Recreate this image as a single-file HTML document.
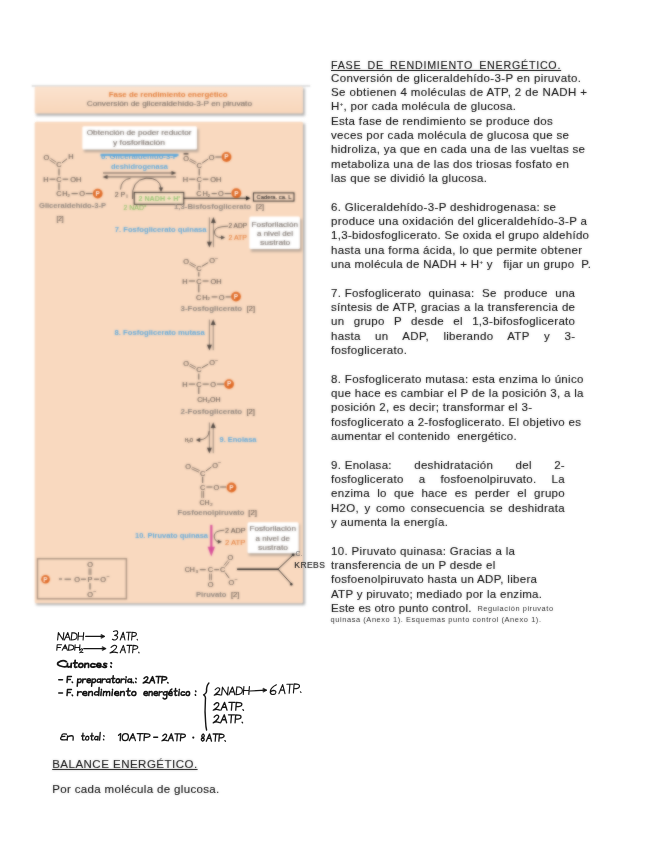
<!DOCTYPE html>
<html>
<head>
<meta charset="utf-8">
<style>
html,body{margin:0;padding:0;background:#fff;}
body{width:658px;height:848px;position:relative;overflow:hidden;font-family:"Liberation Sans",sans-serif;color:#111;}
.l{position:absolute;left:331px;white-space:nowrap;font-size:11.5px;line-height:14px;height:14px;color:#111;-webkit-text-stroke:0.12px #050505;}
.j{letter-spacing:0.3px;width:246px;text-align:justify;text-align-last:justify;white-space:normal;}
.u{text-decoration:underline;}
.s{font-size:7.4px;-webkit-text-stroke:0;color:#2a2a2a;}
sup{font-size:6px;line-height:0;vertical-align:4px;}
#txt{position:absolute;left:0;top:0;width:658px;height:848px;filter:url(#soft2);}
#dia{position:absolute;left:0;top:0;width:658px;height:848px;filter:url(#soft);}
.d{position:absolute;white-space:nowrap;font-size:6.5px;line-height:8px;color:#6b625b;text-align:center;}
</style>
</head>
<body>
<svg width="0" height="0" style="position:absolute"><defs><filter id="soft" x="0" y="0" width="100%" height="100%" color-interpolation-filters="sRGB"><feGaussianBlur stdDeviation="1.0" result="b"/><feComposite in="b" in2="SourceGraphic" operator="arithmetic" k1="0" k2="0.72" k3="0.28" k4="0"/></filter><filter id="soft2" x="0" y="0" width="100%" height="100%" color-interpolation-filters="sRGB"><feGaussianBlur stdDeviation="0.8" result="b"/><feComposite in="b" in2="SourceGraphic" operator="arithmetic" k1="0" k2="0.3" k3="0.7" k4="0"/></filter></defs></svg>
<div id="dia">
<!--DIAGRAM-->
<svg width="658" height="848" viewBox="0 0 658 848" font-family="Liberation Sans, sans-serif" style="position:absolute;left:0;top:0">
<defs><filter id="sh" x="-10%" y="-10%" width="120%" height="130%"><feGaussianBlur stdDeviation="0.8"/></filter><linearGradient id="tg" x1="0" y1="0" x2="0" y2="1"><stop offset="0" stop-color="#fbe3cf"/><stop offset="1" stop-color="#f8d6ba"/></linearGradient></defs>
<rect x="31.7" y="85.3" width="278.5" height="1.3" fill="#d0d0d0"/>
<rect x="36.2" y="88.2" width="268.6" height="27.6" fill="#8f8f8f" opacity="0.7" filter="url(#sh)"/>
<rect x="34.7" y="86.5" width="268.3" height="27" rx="1.5" fill="url(#tg)"/>
<rect x="36.2" y="123.5" width="268.8" height="481.6" fill="#8f8f8f" opacity="0.7" filter="url(#sh)"/>
<rect x="34.7" y="121.8" width="268.3" height="481.5" rx="1.5" fill="#f9d9bf"/>
<text x="108.7" y="96.7" font-size="7.2" fill="#e27a35" stroke="#e27a35" stroke-width="0.0" font-weight="bold" textLength="119.0" lengthAdjust="spacingAndGlyphs">Fase de rendimiento energético</text>
<text x="86.7" y="106.4" font-size="7.2" fill="#746a63" stroke="#746a63" stroke-width="0.12" textLength="165.3" lengthAdjust="spacingAndGlyphs">Conversión de gliceraldehído-3-P en piruvato</text>
<rect x="84" y="129" width="114.5" height="23" fill="#8c847e" opacity="0.6" filter="url(#sh)"/>
<rect x="82.3" y="126.3" width="114.7" height="23.3" rx="1.5" fill="#fff"/>
<text x="86.7" y="134.9" font-size="7.2" fill="#746a63" stroke="#746a63" stroke-width="0.12" textLength="104.9" lengthAdjust="spacingAndGlyphs">Obtención de poder reductor</text>
<text x="113.0" y="145.2" font-size="7.2" fill="#746a63" stroke="#746a63" stroke-width="0.12" textLength="52.0" lengthAdjust="spacingAndGlyphs">y fosforilación</text>
<text x="46.4" y="159.9" font-size="7.4" fill="#5c524b" stroke="#5c524b" stroke-width="0.12" text-anchor="middle">O</text>
<text x="59.0" y="167.3" font-size="7.4" fill="#5c524b" stroke="#5c524b" stroke-width="0.12" text-anchor="middle">C</text>
<line x1="49.5" y1="160.0" x2="55.3" y2="163.8" stroke="#5c524b" stroke-width="0.7"/>
<line x1="50.5" y1="158.4" x2="56.3" y2="162.2" stroke="#5c524b" stroke-width="0.7"/>
<line x1="62.0" y1="162.8" x2="67.0" y2="158.8" stroke="#5c524b" stroke-width="1.0"/>
<text x="71.0" y="159.3" font-size="7.4" fill="#5c524b" stroke="#5c524b" stroke-width="0.12" text-anchor="middle">H</text>
<line x1="59.0" y1="168.6" x2="59.0" y2="175.4" stroke="#5c524b" stroke-width="1.0"/>
<text x="46.0" y="181.9" font-size="7.4" fill="#5c524b" stroke="#5c524b" stroke-width="0.12" text-anchor="middle">H</text>
<line x1="49.6" y1="179.2" x2="55.4" y2="179.2" stroke="#5c524b" stroke-width="1.0"/>
<text x="59.0" y="181.9" font-size="7.4" fill="#5c524b" stroke="#5c524b" stroke-width="0.12" text-anchor="middle">C</text>
<line x1="62.6" y1="179.2" x2="68.2" y2="179.2" stroke="#5c524b" stroke-width="1.0"/>
<text x="75.8" y="181.9" font-size="7.4" fill="#5c524b" stroke="#5c524b" stroke-width="0.12" text-anchor="middle">OH</text>
<line x1="59.0" y1="183.2" x2="59.0" y2="189.8" stroke="#5c524b" stroke-width="1.0"/>
<text x="58.8" y="196.3" font-size="7.4" fill="#5c524b" stroke="#5c524b" stroke-width="0.12" text-anchor="middle">C</text>
<text x="65.0" y="196.3" font-size="7.4" fill="#5c524b" stroke="#5c524b" stroke-width="0.12" text-anchor="middle">H</text>
<text x="68.6" y="197.1" font-size="4.2" fill="#5c524b" stroke="#5c524b" stroke-width="0.12" text-anchor="middle">2</text>
<line x1="71.5" y1="193.6" x2="77.8" y2="193.6" stroke="#5c524b" stroke-width="1.0"/>
<text x="82.0" y="196.3" font-size="7.4" fill="#5c524b" stroke="#5c524b" stroke-width="0.12" text-anchor="middle">O</text>
<line x1="85.8" y1="193.6" x2="92.6" y2="193.6" stroke="#5c524b" stroke-width="1.0"/>
<circle cx="97.7" cy="193.6" r="4.9" fill="#e06a25"/>
<text x="97.7" y="195.9" font-size="6.5" fill="#fff" stroke="#fff" stroke-width="0.0" text-anchor="middle" font-weight="bold">P</text>
<text x="39.0" y="207.6" font-size="6.6" fill="#8a8079" stroke="#8a8079" stroke-width="0.0" font-weight="bold" textLength="67.0" lengthAdjust="spacingAndGlyphs">Gliceraldehído-3-P</text>
<text x="60.0" y="220.9" font-size="6.5" fill="#5c524b" stroke="#5c524b" stroke-width="0.12" text-anchor="middle">[2]</text>
<text x="101.0" y="158.6" font-size="6.8" fill="#5aa7dc" stroke="#5aa7dc" stroke-width="0.0" font-weight="bold" textLength="77.0" lengthAdjust="spacingAndGlyphs">6. Gliceraldehído-3-P</text>
<rect x="100.5" y="153.8" width="78" height="2.2" fill="#5aa7dc"/>
<text x="111.0" y="168.7" font-size="6.8" fill="#5aa7dc" stroke="#5aa7dc" stroke-width="0.0" font-weight="bold" textLength="57.0" lengthAdjust="spacingAndGlyphs">deshidrogenasa</text>
<line x1="103.0" y1="173.0" x2="174.0" y2="173.0" stroke="#4a423d" stroke-width="0.9"/>
<path d="M176.5,173 L171.5,171 L171.5,175 Z" stroke="#4a423d" stroke-width="0" fill="#4a423d"/>
<line x1="105.0" y1="176.9" x2="176.0" y2="176.9" stroke="#4a423d" stroke-width="0.9"/>
<path d="M102.5,176.9 L107.5,174.9 L107.5,178.9 Z" stroke="#4a423d" stroke-width="0" fill="#4a423d"/>
<path d="M120.5,189.5 Q121,179.5 130.5,178.3" stroke="#4a423d" stroke-width="0.8" fill="none"/>
<text x="120.0" y="197.0" font-size="7" fill="#5c524b" stroke="#5c524b" stroke-width="0.12" text-anchor="middle">2 P</text>
<text x="127.0" y="198.1" font-size="4.5" fill="#5c524b" stroke="#5c524b" stroke-width="0.12" text-anchor="middle">i</text>
<path d="M132.6,199 Q131,180 146,178.2 Q160,177.5 161,188.5" stroke="#4a423d" stroke-width="0.9" fill="none"/>
<path d="M161,192 L158.8,187.6 L163.2,187.6 Z" stroke="#4a423d" stroke-width="0" fill="#4a423d"/>
<rect x="134.2" y="192.4" width="49.6" height="11.9" fill="#f7dec2" stroke="#2a2623" stroke-width="1"/>
<text x="138.5" y="200.9" font-size="6.8" fill="#93c572" stroke="#93c572" stroke-width="0.0" font-weight="bold" textLength="42.0" lengthAdjust="spacingAndGlyphs">2 NADH + H⁺</text>
<text x="123.5" y="209.6" font-size="6.8" fill="#86bf62" stroke="#86bf62" stroke-width="0.12" textLength="22.5" lengthAdjust="spacingAndGlyphs">2 NAD⁺</text>
<line x1="183.7" y1="198.2" x2="248.0" y2="198.2" stroke="#111" stroke-width="1.1"/>
<path d="M250.5,198.2 L246,196 L246,200.4 Z" stroke="#111" stroke-width="0" fill="#111"/>
<rect x="253.4" y="192.9" width="40.6" height="8.2" fill="none" stroke="#111" stroke-width="0.9"/>
<text x="256.5" y="199.2" font-size="5.4" fill="#222" stroke="#222" stroke-width="0.12" textLength="35.0" lengthAdjust="spacingAndGlyphs">Cadera. ca. L</text>
<text x="186.0" y="160.5" font-size="7.4" fill="#5c524b" stroke="#5c524b" stroke-width="0.12" text-anchor="middle">O</text>
<rect x="183.6" y="153.2" width="4.8" height="1.3" fill="#3a3430"/>
<text x="199.2" y="167.5" font-size="7.4" fill="#5c524b" stroke="#5c524b" stroke-width="0.12" text-anchor="middle">C</text>
<line x1="189.2" y1="160.6" x2="195.6" y2="164.0" stroke="#5c524b" stroke-width="0.7"/>
<line x1="190.0" y1="159.0" x2="196.4" y2="162.4" stroke="#5c524b" stroke-width="0.7"/>
<line x1="202.2" y1="163.0" x2="208.2" y2="159.0" stroke="#5c524b" stroke-width="1.0"/>
<text x="211.7" y="159.7" font-size="7.4" fill="#5c524b" stroke="#5c524b" stroke-width="0.12" text-anchor="middle">O</text>
<line x1="215.4" y1="157.0" x2="221.6" y2="157.0" stroke="#5c524b" stroke-width="1.0"/>
<circle cx="226.5" cy="157.0" r="4.9" fill="#e06a25"/>
<text x="226.5" y="159.3" font-size="6.5" fill="#fff" stroke="#fff" stroke-width="0.0" text-anchor="middle" font-weight="bold">P</text>
<line x1="199.2" y1="168.8" x2="199.2" y2="175.4" stroke="#5c524b" stroke-width="1.0"/>
<text x="185.5" y="181.9" font-size="7.4" fill="#5c524b" stroke="#5c524b" stroke-width="0.12" text-anchor="middle">H</text>
<line x1="189.2" y1="179.2" x2="195.4" y2="179.2" stroke="#5c524b" stroke-width="1.0"/>
<text x="199.2" y="181.9" font-size="7.4" fill="#5c524b" stroke="#5c524b" stroke-width="0.12" text-anchor="middle">C</text>
<line x1="202.8" y1="179.2" x2="208.4" y2="179.2" stroke="#5c524b" stroke-width="1.0"/>
<text x="215.8" y="181.9" font-size="7.4" fill="#5c524b" stroke="#5c524b" stroke-width="0.12" text-anchor="middle">OH</text>
<line x1="199.2" y1="183.2" x2="199.2" y2="189.8" stroke="#5c524b" stroke-width="1.0"/>
<text x="199.0" y="196.3" font-size="7.4" fill="#5c524b" stroke="#5c524b" stroke-width="0.12" text-anchor="middle">C</text>
<text x="205.2" y="196.3" font-size="7.4" fill="#5c524b" stroke="#5c524b" stroke-width="0.12" text-anchor="middle">H</text>
<text x="208.8" y="197.1" font-size="4.2" fill="#5c524b" stroke="#5c524b" stroke-width="0.12" text-anchor="middle">2</text>
<line x1="211.6" y1="193.6" x2="216.8" y2="193.6" stroke="#5c524b" stroke-width="1.0"/>
<text x="220.8" y="196.3" font-size="7.4" fill="#5c524b" stroke="#5c524b" stroke-width="0.12" text-anchor="middle">O</text>
<line x1="224.6" y1="193.6" x2="231.0" y2="193.6" stroke="#5c524b" stroke-width="1.0"/>
<circle cx="236.3" cy="193.2" r="4.9" fill="#e06a25"/>
<text x="236.3" y="195.5" font-size="6.5" fill="#fff" stroke="#fff" stroke-width="0.0" text-anchor="middle" font-weight="bold">P</text>
<text x="174.0" y="208.6" font-size="6.6" fill="#8a8079" stroke="#8a8079" stroke-width="0.0" font-weight="bold" textLength="77.0" lengthAdjust="spacingAndGlyphs">1,3-Bisfosfoglicerato</text>
<text x="256.0" y="208.5" font-size="6.5" fill="#5c524b" stroke="#5c524b" stroke-width="0.12" textLength="8.0" lengthAdjust="spacingAndGlyphs">[2]</text>
<text x="114.8" y="232.4" font-size="6.8" fill="#5aa7dc" stroke="#5aa7dc" stroke-width="0.0" font-weight="bold" textLength="91.8" lengthAdjust="spacingAndGlyphs">7. Fosfoglicerato quinasa</text>
<line x1="209.4" y1="217.4" x2="209.4" y2="245.2" stroke="#85766b" stroke-width="0.9"/>
<path d="M209.4,247.5 L206.9,241.7 L211.9,241.7 Z" stroke="#4a423d" stroke-width="0" fill="#4a423d"/>
<line x1="213.4" y1="219.4" x2="213.4" y2="247.2" stroke="#85766b" stroke-width="0.9"/>
<path d="M213.4,217.1 L210.9,222.9 L215.9,222.9 Z" stroke="#4a423d" stroke-width="0" fill="#4a423d"/>
<path d="M228,226.2 Q214.2,226.5 214.4,232 Q214.8,237.6 221.5,237.6" stroke="#4a423d" stroke-width="0.8" fill="none"/>
<path d="M225.2,237.6 L221,235.6 L221,239.6 Z" stroke="#4a423d" stroke-width="0" fill="#4a423d"/>
<text x="228.5" y="228.4" font-size="6.8" fill="#5c524b" stroke="#5c524b" stroke-width="0.12" textLength="18.5" lengthAdjust="spacingAndGlyphs">2 ADP</text>
<text x="228.5" y="240.4" font-size="6.8" fill="#e27a35" stroke="#e27a35" stroke-width="0.12" textLength="18.5" lengthAdjust="spacingAndGlyphs">2 ATP</text>
<rect x="251" y="219" width="50.7" height="32.6" fill="#8c847e" opacity="0.6" filter="url(#sh)"/>
<rect x="249.3" y="216.4" width="50.7" height="32.6" rx="1.5" fill="#fff"/>
<text x="251.6" y="226.9" font-size="7.3" fill="#746a63" stroke="#746a63" stroke-width="0.12" textLength="46.4" lengthAdjust="spacingAndGlyphs">Fosforilación</text>
<text x="257.0" y="236.1" font-size="7.3" fill="#746a63" stroke="#746a63" stroke-width="0.12" textLength="36.0" lengthAdjust="spacingAndGlyphs">a nivel del</text>
<text x="260.0" y="245.2" font-size="7.3" fill="#746a63" stroke="#746a63" stroke-width="0.12" textLength="30.3" lengthAdjust="spacingAndGlyphs">sustrato</text>
<text x="186.0" y="264.0" font-size="7.4" fill="#5c524b" stroke="#5c524b" stroke-width="0.12" text-anchor="middle">O</text>
<text x="198.8" y="270.9" font-size="7.4" fill="#5c524b" stroke="#5c524b" stroke-width="0.12" text-anchor="middle">C</text>
<line x1="189.2" y1="264.1" x2="195.2" y2="267.4" stroke="#5c524b" stroke-width="0.7"/>
<line x1="190.0" y1="262.5" x2="196.0" y2="265.8" stroke="#5c524b" stroke-width="0.7"/>
<line x1="201.8" y1="266.4" x2="208.2" y2="262.6" stroke="#5c524b" stroke-width="1.0"/>
<text x="212.0" y="263.4" font-size="7.4" fill="#5c524b" stroke="#5c524b" stroke-width="0.12" text-anchor="middle">O</text>
<text x="216.6" y="259.8" font-size="4.5" fill="#5c524b" stroke="#5c524b" stroke-width="0.12" text-anchor="middle">–</text>
<line x1="198.8" y1="272.2" x2="198.8" y2="276.6" stroke="#5c524b" stroke-width="1.0"/>
<text x="185.0" y="283.7" font-size="7.4" fill="#5c524b" stroke="#5c524b" stroke-width="0.12" text-anchor="middle">H</text>
<line x1="188.8" y1="281.0" x2="195.0" y2="281.0" stroke="#5c524b" stroke-width="1.0"/>
<text x="198.8" y="283.7" font-size="7.4" fill="#5c524b" stroke="#5c524b" stroke-width="0.12" text-anchor="middle">C</text>
<line x1="202.6" y1="281.0" x2="208.6" y2="281.0" stroke="#5c524b" stroke-width="1.0"/>
<text x="216.0" y="283.7" font-size="7.4" fill="#5c524b" stroke="#5c524b" stroke-width="0.12" text-anchor="middle">OH</text>
<line x1="198.8" y1="284.4" x2="198.8" y2="292.4" stroke="#5c524b" stroke-width="1.0"/>
<text x="198.6" y="299.6" font-size="7.4" fill="#5c524b" stroke="#5c524b" stroke-width="0.12" text-anchor="middle">C</text>
<text x="204.8" y="299.6" font-size="7.4" fill="#5c524b" stroke="#5c524b" stroke-width="0.12" text-anchor="middle">H</text>
<text x="208.6" y="300.4" font-size="4.2" fill="#5c524b" stroke="#5c524b" stroke-width="0.12" text-anchor="middle">2</text>
<line x1="211.6" y1="296.9" x2="217.4" y2="296.9" stroke="#5c524b" stroke-width="1.0"/>
<text x="221.6" y="299.6" font-size="7.4" fill="#5c524b" stroke="#5c524b" stroke-width="0.12" text-anchor="middle">O</text>
<line x1="225.6" y1="296.9" x2="230.8" y2="296.9" stroke="#5c524b" stroke-width="1.0"/>
<circle cx="236.0" cy="296.6" r="4.9" fill="#e06a25"/>
<text x="236.0" y="298.9" font-size="6.5" fill="#fff" stroke="#fff" stroke-width="0.0" text-anchor="middle" font-weight="bold">P</text>
<text x="180.5" y="310.8" font-size="6.6" fill="#8a8079" stroke="#8a8079" stroke-width="0.0" font-weight="bold" textLength="61.7" lengthAdjust="spacingAndGlyphs">3-Fosfoglicerato</text>
<text x="246.8" y="310.7" font-size="6.5" fill="#5c524b" stroke="#5c524b" stroke-width="0.12" textLength="8.2" lengthAdjust="spacingAndGlyphs">[2]</text>
<text x="114.6" y="335.1" font-size="6.8" fill="#5aa7dc" stroke="#5aa7dc" stroke-width="0.0" font-weight="bold" textLength="90.3" lengthAdjust="spacingAndGlyphs">8. Fosfoglicerato mutasa</text>
<line x1="209.4" y1="319.6" x2="209.4" y2="348.2" stroke="#85766b" stroke-width="0.9"/>
<path d="M209.4,350.5 L206.9,344.7 L211.9,344.7 Z" stroke="#4a423d" stroke-width="0" fill="#4a423d"/>
<line x1="213.2" y1="321.6" x2="213.2" y2="350.2" stroke="#85766b" stroke-width="0.9"/>
<path d="M213.2,319.3 L210.7,325.1 L215.7,325.1 Z" stroke="#4a423d" stroke-width="0" fill="#4a423d"/>
<text x="186.0" y="365.7" font-size="7.4" fill="#5c524b" stroke="#5c524b" stroke-width="0.12" text-anchor="middle">O</text>
<text x="198.8" y="372.3" font-size="7.4" fill="#5c524b" stroke="#5c524b" stroke-width="0.12" text-anchor="middle">C</text>
<line x1="189.2" y1="365.8" x2="195.2" y2="369.0" stroke="#5c524b" stroke-width="0.7"/>
<line x1="190.0" y1="364.2" x2="196.0" y2="367.4" stroke="#5c524b" stroke-width="0.7"/>
<line x1="201.8" y1="367.8" x2="208.2" y2="364.2" stroke="#5c524b" stroke-width="1.0"/>
<text x="212.0" y="365.2" font-size="7.4" fill="#5c524b" stroke="#5c524b" stroke-width="0.12" text-anchor="middle">O</text>
<text x="216.6" y="361.6" font-size="4.5" fill="#5c524b" stroke="#5c524b" stroke-width="0.12" text-anchor="middle">–</text>
<line x1="198.8" y1="373.6" x2="198.8" y2="379.6" stroke="#5c524b" stroke-width="1.0"/>
<text x="185.0" y="386.8" font-size="7.4" fill="#5c524b" stroke="#5c524b" stroke-width="0.12" text-anchor="middle">H</text>
<line x1="188.8" y1="384.1" x2="195.0" y2="384.1" stroke="#5c524b" stroke-width="1.0"/>
<text x="198.8" y="386.8" font-size="7.4" fill="#5c524b" stroke="#5c524b" stroke-width="0.12" text-anchor="middle">C</text>
<line x1="202.6" y1="384.1" x2="208.8" y2="384.1" stroke="#5c524b" stroke-width="1.0"/>
<text x="213.0" y="386.8" font-size="7.4" fill="#5c524b" stroke="#5c524b" stroke-width="0.12" text-anchor="middle">O</text>
<line x1="217.0" y1="384.1" x2="224.0" y2="384.1" stroke="#5c524b" stroke-width="1.0"/>
<circle cx="229.1" cy="384.1" r="4.9" fill="#e06a25"/>
<text x="229.1" y="386.4" font-size="6.5" fill="#fff" stroke="#fff" stroke-width="0.0" text-anchor="middle" font-weight="bold">P</text>
<line x1="198.8" y1="387.4" x2="198.8" y2="394.0" stroke="#5c524b" stroke-width="1.0"/>
<text x="197.2" y="401.5" font-size="7.4" fill="#5c524b" stroke="#5c524b" stroke-width="0.12" textLength="23.4" lengthAdjust="spacingAndGlyphs">CH₂OH</text>
<text x="180.5" y="413.7" font-size="6.6" fill="#8a8079" stroke="#8a8079" stroke-width="0.0" font-weight="bold" textLength="61.7" lengthAdjust="spacingAndGlyphs">2-Fosfoglicerato</text>
<text x="246.5" y="413.6" font-size="6.5" fill="#5c524b" stroke="#5c524b" stroke-width="0.12" textLength="8.5" lengthAdjust="spacingAndGlyphs">[2]</text>
<line x1="209.4" y1="422.5" x2="209.4" y2="451.2" stroke="#85766b" stroke-width="0.9"/>
<path d="M209.4,453.5 L206.9,447.7 L211.9,447.7 Z" stroke="#4a423d" stroke-width="0" fill="#4a423d"/>
<line x1="213.2" y1="424.5" x2="213.2" y2="453.2" stroke="#85766b" stroke-width="0.9"/>
<path d="M213.2,422.2 L210.7,428.0 L215.7,428.0 Z" stroke="#4a423d" stroke-width="0" fill="#4a423d"/>
<path d="M209.2,431 Q208.5,439.5 199,440" stroke="#4a423d" stroke-width="0.8" fill="none"/>
<path d="M195.8,440 L200.2,437.8 L200.2,442.2 Z" stroke="#4a423d" stroke-width="0" fill="#4a423d"/>
<text x="185.0" y="441.9" font-size="4.6" fill="#4a423d" stroke="#4a423d" stroke-width="0.12" textLength="8.0" lengthAdjust="spacingAndGlyphs">H₂O</text>
<text x="219.5" y="442.4" font-size="6.8" fill="#5aa7dc" stroke="#5aa7dc" stroke-width="0.0" font-weight="bold" textLength="37.0" lengthAdjust="spacingAndGlyphs">9. Enolasa</text>
<text x="188.1" y="468.7" font-size="7.4" fill="#5c524b" stroke="#5c524b" stroke-width="0.12" text-anchor="middle">O</text>
<text x="202.7" y="475.6" font-size="7.4" fill="#5c524b" stroke="#5c524b" stroke-width="0.12" text-anchor="middle">C</text>
<line x1="191.4" y1="468.8" x2="199.0" y2="472.2" stroke="#5c524b" stroke-width="0.7"/>
<line x1="192.2" y1="467.2" x2="199.8" y2="470.6" stroke="#5c524b" stroke-width="0.7"/>
<line x1="205.8" y1="471.0" x2="211.4" y2="467.0" stroke="#5c524b" stroke-width="1.0"/>
<text x="215.0" y="467.7" font-size="7.4" fill="#5c524b" stroke="#5c524b" stroke-width="0.12" text-anchor="middle">O</text>
<text x="219.6" y="464.1" font-size="4.5" fill="#5c524b" stroke="#5c524b" stroke-width="0.12" text-anchor="middle">–</text>
<line x1="202.7" y1="476.8" x2="202.7" y2="483.0" stroke="#5c524b" stroke-width="1.0"/>
<text x="202.7" y="489.7" font-size="7.4" fill="#5c524b" stroke="#5c524b" stroke-width="0.12" text-anchor="middle">C</text>
<line x1="206.4" y1="487.0" x2="212.4" y2="487.0" stroke="#5c524b" stroke-width="1.0"/>
<text x="216.4" y="489.7" font-size="7.4" fill="#5c524b" stroke="#5c524b" stroke-width="0.12" text-anchor="middle">O</text>
<line x1="220.2" y1="487.0" x2="226.2" y2="487.0" stroke="#5c524b" stroke-width="1.0"/>
<circle cx="231.5" cy="487.5" r="4.9" fill="#e06a25"/>
<text x="231.5" y="489.8" font-size="6.5" fill="#fff" stroke="#fff" stroke-width="0.0" text-anchor="middle" font-weight="bold">P</text>
<line x1="201.8" y1="491.0" x2="201.8" y2="498.0" stroke="#5c524b" stroke-width="0.7"/>
<line x1="203.6" y1="491.0" x2="203.6" y2="498.0" stroke="#5c524b" stroke-width="0.7"/>
<text x="204.6" y="504.7" font-size="7" fill="#5c524b" stroke="#5c524b" stroke-width="0.12" text-anchor="middle">CH</text>
<text x="211.4" y="505.7" font-size="4.2" fill="#5c524b" stroke="#5c524b" stroke-width="0.12" text-anchor="middle">2</text>
<text x="177.5" y="514.6" font-size="6.6" fill="#8a8079" stroke="#8a8079" stroke-width="0.0" font-weight="bold" textLength="66.9" lengthAdjust="spacingAndGlyphs">Fosfoenolpiruvato</text>
<text x="248.3" y="514.5" font-size="6.5" fill="#5c524b" stroke="#5c524b" stroke-width="0.12" textLength="8.7" lengthAdjust="spacingAndGlyphs">[2]</text>
<text x="135.0" y="538.4" font-size="6.8" fill="#5aa7dc" stroke="#5aa7dc" stroke-width="0.0" font-weight="bold" textLength="73.0" lengthAdjust="spacingAndGlyphs">10. Piruvato quinasa</text>
<line x1="211.3" y1="524.9" x2="211.3" y2="549.0" stroke="#d8509a" stroke-width="2.2"/>
<path d="M211.3,556.6 L207.6,546.8 L215,546.8 Z" stroke="#d8509a" stroke-width="0" fill="#d8509a"/>
<path d="M224.4,530.2 Q214.2,530.5 214.2,536 Q214.4,541.7 219,541.7" stroke="#4a423d" stroke-width="0.8" fill="none"/>
<path d="M222,541.7 L217.8,539.7 L217.8,543.7 Z" stroke="#4a423d" stroke-width="0" fill="#4a423d"/>
<text x="225.0" y="532.6" font-size="6.8" fill="#5c524b" stroke="#5c524b" stroke-width="0.12" textLength="20.5" lengthAdjust="spacingAndGlyphs">2 ADP</text>
<text x="225.0" y="544.8" font-size="6.8" fill="#e27a35" stroke="#e27a35" stroke-width="0.12" textLength="20.5" lengthAdjust="spacingAndGlyphs">2 ATP</text>
<rect x="248.7" y="524.3" width="51" height="31.3" fill="#8c847e" opacity="0.6" filter="url(#sh)"/>
<rect x="247.5" y="522.2" width="51.2" height="31.1" rx="1.5" fill="#fff"/>
<text x="249.4" y="531.3" font-size="7.3" fill="#746a63" stroke="#746a63" stroke-width="0.12" textLength="46.6" lengthAdjust="spacingAndGlyphs">Fosforilación</text>
<text x="255.5" y="541.0" font-size="7.3" fill="#746a63" stroke="#746a63" stroke-width="0.12" textLength="34.5" lengthAdjust="spacingAndGlyphs">a nivel de</text>
<text x="258.0" y="550.1" font-size="7.3" fill="#746a63" stroke="#746a63" stroke-width="0.12" textLength="30.0" lengthAdjust="spacingAndGlyphs">sustrato</text>
<text x="189.8" y="572.2" font-size="7" fill="#5c524b" stroke="#5c524b" stroke-width="0.12" text-anchor="middle">CH</text>
<text x="196.8" y="573.2" font-size="4.2" fill="#5c524b" stroke="#5c524b" stroke-width="0.12" text-anchor="middle">3</text>
<line x1="199.8" y1="569.7" x2="205.8" y2="569.7" stroke="#5c524b" stroke-width="1.0"/>
<text x="210.5" y="572.4" font-size="7.4" fill="#5c524b" stroke="#5c524b" stroke-width="0.12" text-anchor="middle">C</text>
<line x1="214.2" y1="569.7" x2="219.0" y2="569.7" stroke="#5c524b" stroke-width="1.0"/>
<text x="222.7" y="572.4" font-size="7.4" fill="#5c524b" stroke="#5c524b" stroke-width="0.12" text-anchor="middle">C</text>
<line x1="209.6" y1="573.6" x2="209.6" y2="580.2" stroke="#5c524b" stroke-width="0.7"/>
<line x1="211.4" y1="573.6" x2="211.4" y2="580.2" stroke="#5c524b" stroke-width="0.7"/>
<text x="210.5" y="587.0" font-size="7.4" fill="#5c524b" stroke="#5c524b" stroke-width="0.12" text-anchor="middle">O</text>
<line x1="225.3" y1="566.6" x2="229.3" y2="561.6" stroke="#5c524b" stroke-width="0.7"/>
<line x1="223.9" y1="565.4" x2="227.9" y2="560.4" stroke="#5c524b" stroke-width="0.7"/>
<text x="230.3" y="560.3" font-size="7.4" fill="#5c524b" stroke="#5c524b" stroke-width="0.12" text-anchor="middle">O</text>
<line x1="225.2" y1="572.6" x2="229.2" y2="578.2" stroke="#5c524b" stroke-width="1.0"/>
<text x="231.4" y="584.6" font-size="7.4" fill="#5c524b" stroke="#5c524b" stroke-width="0.12" text-anchor="middle">O</text>
<text x="236.0" y="581.0" font-size="4.5" fill="#5c524b" stroke="#5c524b" stroke-width="0.12" text-anchor="middle">–</text>
<text x="196.0" y="597.0" font-size="6.6" fill="#8a8079" stroke="#8a8079" stroke-width="0.0" font-weight="bold" textLength="30.4" lengthAdjust="spacingAndGlyphs">Piruvato</text>
<text x="231.0" y="596.9" font-size="6.5" fill="#5c524b" stroke="#5c524b" stroke-width="0.12" textLength="8.4" lengthAdjust="spacingAndGlyphs">[2]</text>
<line x1="237.0" y1="569.2" x2="278.5" y2="569.2" stroke="#1a1a1a" stroke-width="1.5"/>
<line x1="278.0" y1="569.2" x2="292.9" y2="555.0" stroke="#1a1a1a" stroke-width="1.0"/>
<line x1="278.0" y1="569.2" x2="291.3" y2="583.8" stroke="#1a1a1a" stroke-width="1.0"/>
<circle cx="291.3" cy="584.3" r="1.2" fill="#1a1a1a"/>
<circle cx="293.2" cy="554.8" r="1.4" fill="#1a1a1a"/>
<rect x="37.5" y="558.7" width="88.9" height="40.1" fill="none" stroke="#a8917f" stroke-width="1.4"/>
<circle cx="45.5" cy="579.2" r="4.3" fill="#e06a25"/>
<text x="45.5" y="581.5" font-size="6.5" fill="#fff" stroke="#fff" stroke-width="0.0" text-anchor="middle" font-weight="bold">P</text>
<text x="60.5" y="581.4" font-size="6" fill="#5c524b" stroke="#5c524b" stroke-width="0.12" text-anchor="middle">=</text>
<line x1="64.5" y1="579.2" x2="71.0" y2="579.2" stroke="#5c524b" stroke-width="1.0"/>
<text x="77.0" y="581.9" font-size="7.4" fill="#5c524b" stroke="#5c524b" stroke-width="0.12" text-anchor="middle">O</text>
<line x1="81.0" y1="579.2" x2="86.0" y2="579.2" stroke="#5c524b" stroke-width="1.0"/>
<text x="90.0" y="581.9" font-size="7.4" fill="#5c524b" stroke="#5c524b" stroke-width="0.12" text-anchor="middle">P</text>
<line x1="94.0" y1="579.2" x2="99.0" y2="579.2" stroke="#5c524b" stroke-width="1.0"/>
<text x="103.2" y="581.9" font-size="7.4" fill="#5c524b" stroke="#5c524b" stroke-width="0.12" text-anchor="middle">O</text>
<text x="108.0" y="578.2" font-size="4.5" fill="#5c524b" stroke="#5c524b" stroke-width="0.12" text-anchor="middle">–</text>
<line x1="89.1" y1="568.4" x2="89.1" y2="575.0" stroke="#5c524b" stroke-width="0.7"/>
<line x1="90.9" y1="568.4" x2="90.9" y2="575.0" stroke="#5c524b" stroke-width="0.7"/>
<text x="90.0" y="566.9" font-size="7.4" fill="#5c524b" stroke="#5c524b" stroke-width="0.12" text-anchor="middle">O</text>
<line x1="90.0" y1="583.2" x2="90.0" y2="589.6" stroke="#5c524b" stroke-width="1.0"/>
<text x="90.0" y="596.5" font-size="7.4" fill="#5c524b" stroke="#5c524b" stroke-width="0.12" text-anchor="middle">O</text>
<text x="94.8" y="592.8" font-size="4.5" fill="#5c524b" stroke="#5c524b" stroke-width="0.12" text-anchor="middle">–</text>
</svg>
<!--/DIAGRAM-->
</div>
<div id="txt">
<!--TEXT-->
<div class="l" id="t0" style="top:57.89px;font-size:10.7px;word-spacing:2.5px;letter-spacing:0.752px;"><span class="u">FASE DE RENDIMIENTO ENERGÉTICO.</span></div>
<div class="l" id="t1" style="top:70.71px;letter-spacing:0.369px;">Conversión de gliceraldehído-3-P en piruvato.</div>
<div class="l" id="t2" style="top:85.04px;letter-spacing:0.405px;">Se obtienen 4 moléculas de ATP, 2 de NADH +</div>
<div class="l" id="t3" style="top:99.37px;letter-spacing:0.337px;">H<sup>+</sup>, por cada molécula de glucosa.</div>
<div class="l" id="t4" style="top:113.70px;letter-spacing:0.333px;">Esta fase de rendimiento se produce dos</div>
<div class="l" id="t5" style="top:128.03px;letter-spacing:0.356px;">veces por cada molécula de glucosa que se</div>
<div class="l" id="t6" style="top:142.36px;letter-spacing:0.324px;">hidroliza, ya que en cada una de las vueltas se</div>
<div class="l" id="t7" style="top:156.69px;letter-spacing:0.316px;">metaboliza una de las dos triosas fosfato en</div>
<div class="l" id="t8" style="top:171.02px;letter-spacing:0.331px;">las que se dividió la glucosa.</div>
<div class="l" id="t10" style="top:199.68px;letter-spacing:0.333px;">6. Gliceraldehído-3-P deshidrogenasa: se</div>
<div class="l" id="t11" style="top:214.01px;letter-spacing:0.351px;">produce una oxidación del gliceraldehído-3-P a</div>
<div class="l" id="t12" style="top:228.34px;letter-spacing:0.307px;">1,3-bidosfoglicerato. Se oxida el grupo aldehído</div>
<div class="l" id="t13" style="top:242.67px;letter-spacing:0.358px;">hasta una forma ácida, lo que permite obtener</div>
<div class="l" id="t14" style="top:257.00px;letter-spacing:0.286px;">una molécula de NADH + H<sup>+</sup> y &nbsp;&nbsp;fijar un grupo &nbsp;P.</div>
<div class="l j" id="t16" style="top:285.66px;width:244.3px;"><span style="display:inline-block">7. Fosfoglicerato</span> quinasa: Se produce una</div>
<div class="l j" id="t17" style="top:299.99px;width:244.3px;">síntesis de ATP, gracias a la transferencia de</div>
<div class="l j" id="t18" style="top:314.32px;width:244.3px;">un grupo P desde el 1,3-bifosfoglicerato</div>
<div class="l j" id="t19" style="top:328.65px;width:244.3px;">hasta un ADP, liberando ATP y 3-</div>
<div class="l" id="t20" style="top:342.98px;letter-spacing:0.314px;">fosfoglicerato.</div>
<div class="l" id="t22" style="top:371.64px;letter-spacing:0.341px;">8. Fosfoglicerato mutasa: esta enzima lo único</div>
<div class="l" id="t23" style="top:385.97px;letter-spacing:0.324px;">que hace es cambiar el P de la posición 3, a la</div>
<div class="l" id="t24" style="top:400.30px;letter-spacing:0.310px;">posición 2, es decir; transformar el 3-</div>
<div class="l" id="t25" style="top:414.63px;letter-spacing:0.321px;">fosfoglicerato a 2-fosfoglicerato. El objetivo es</div>
<div class="l" id="t26" style="top:428.96px;letter-spacing:0.261px;">aumentar el contenido &nbsp;energético.</div>
<div class="l j" id="t28" style="top:457.62px;width:234.0px;"><span style="display:inline-block">9. Enolasa:</span> deshidratación del 2-</div>
<div class="l j" id="t29" style="top:471.95px;width:234.0px;">fosfoglicerato a fosfoenolpiruvato. La</div>
<div class="l j" id="t30" style="top:486.28px;width:234.0px;">enzima lo que hace es perder el grupo</div>
<div class="l j" id="t31" style="top:500.61px;width:234.0px;">H2O, y como consecuencia se deshidrata</div>
<div class="l" id="t32" style="top:514.94px;letter-spacing:0.287px;">y aumenta la energía.</div>
<div class="l" id="t34" style="top:543.60px;letter-spacing:0.345px;">10. Piruvato quinasa: Gracias a la</div>
<div class="l" id="t35" style="top:557.93px;letter-spacing:0.293px;">transferencia de un P desde el</div>
<div class="l" id="t36" style="top:572.26px;letter-spacing:0.320px;">fosfoenolpiruvato hasta un ADP, libera</div>
<div class="l" id="t37" style="top:586.59px;letter-spacing:0.289px;">ATP y piruvato; mediado por la enzima.</div>
<div class="l" id="t38" style="top:600.92px;letter-spacing:0.240px;">Este es otro punto control.</div>
<div class="l s" id="t200" style="left:477.4px;top:601.94px;letter-spacing:0.571px;">Regulación piruvato</div>
<div class="l s" id="t201" style="left:330.6px;top:612.74px;letter-spacing:0.597px;">quinasa (Anexo 1). Esquemas punto control (Anexo 1).</div>
<div class="l" style="left:294.3px;top:559.9px;font-size:8.5px;line-height:10px;height:10px;letter-spacing:0.45px;color:#262626;-webkit-text-stroke:0.2px #262626;">KREBS</div>
<div class="l" style="left:295.5px;top:550.2px;font-size:6.8px;line-height:8px;height:8px;color:#666;-webkit-text-stroke:0;">C.</div>
<div class="l" id="t100" style="left:52.2px;top:757.21px;letter-spacing:0.488px;"><span class="u">BALANCE ENERGÉTICO.</span></div>
<div class="l" id="t101" style="left:52.2px;top:781.91px;letter-spacing:0.352px;">Por cada molécula de glucosa.</div>
<!--/TEXT-->
</div>
<div id="hand" style="position:absolute;left:0;top:0;width:658px;height:848px;filter:blur(0.6px)">
<!--HAND-->
<svg width="658" height="848" viewBox="0 0 658 848" style="position:absolute;left:0;top:0" fill="none" stroke="#151515" stroke-width="1.4" stroke-linecap="round" stroke-linejoin="round">
<path d="M57.60,640.00 L58.38,632.60 L63.06,640.00 L63.84,632.60" stroke-width="1.1"/>
<path d="M64.37,640.00 L67.79,632.60 L70.02,640.00 M65.73,637.19 L69.30,637.19" stroke-width="1.1"/>
<path d="M71.93,632.60 L71.15,640.00 Q76.98,640.00 77.09,636.30 Q77.20,632.60 71.93,632.60" stroke-width="1.1"/>
<path d="M78.52,632.60 L77.92,640.00 M83.69,632.60 L83.10,640.00 M78.22,636.30 L83.40,636.30" stroke-width="1.1"/>
<path d="M85.7,636.4 L104,636.4" stroke-width="1.2"/><path d="M101.4,634.5 L105,636.4 L101.4,638.3 Z" stroke-width="0.6" fill="#151515"/>
<path d="M113.48,631.47 Q117.97,629.53 117.70,632.92 Q117.54,634.87 114.62,635.35 Q118.62,635.84 117.27,638.26 Q115.60,641.17 112.38,639.23" stroke-width="1.1"/>
<path d="M120.20,640.00 L123.20,632.20 L124.95,640.00 M121.39,637.04 L124.40,637.04" stroke-width="1.1"/>
<path d="M126.53,632.20 L131.28,632.20 M128.90,632.20 L128.28,640.00" stroke-width="1.1"/>
<path d="M131.61,640.00 L132.23,632.20 Q136.82,632.20 136.41,634.38 Q136.00,636.57 131.89,636.49" stroke-width="1.1"/>
<path d="M137.12,639.38 L137.55,640.00" stroke-width="1.1"/>
<path d="M56.80,650.20 L57.23,644.80 L61.58,644.80 M57.02,647.50 L60.49,647.50" stroke-width="1.1"/>
<path d="M62.19,650.20 L65.23,644.80 L67.41,650.20 M63.40,648.15 L66.71,648.15" stroke-width="1.1"/>
<path d="M69.06,644.80 L68.45,650.20 Q73.85,650.20 73.89,647.50 Q73.93,644.80 69.06,644.80" stroke-width="1.1"/>
<path d="M75.15,644.80 L74.72,650.20 M79.93,644.80 L79.50,650.20 M74.93,647.50 L79.72,647.50" stroke-width="1.1"/>
<path d="M80.27,649.80 Q81.67,648.00 82.56,649.32 Q82.71,650.60 79.80,652.60 Q81.36,651.80 82.91,652.52" stroke-width="1.1"/>
<path d="M83.7,648.6 L105.2,648.6" stroke-width="1.2"/><path d="M102.60000000000001,646.7 L106.2,648.6 L102.60000000000001,650.5 Z" stroke-width="0.6" fill="#151515"/>
<path d="M111.06,647.40 Q114.41,643.80 116.65,646.44 Q117.06,649.00 110.00,653.00 Q113.81,651.40 117.61,652.84" stroke-width="1.1"/>
<path d="M120.20,652.80 L123.38,645.40 L125.38,652.80 M121.46,649.99 L124.74,649.99" stroke-width="1.1"/>
<path d="M127.00,645.40 L132.18,645.40 M129.59,645.40 L129.00,652.80" stroke-width="1.1"/>
<path d="M132.62,652.80 L133.22,645.40 Q138.22,645.40 137.80,647.47 Q137.37,649.54 132.89,649.47" stroke-width="1.1"/>
<path d="M138.63,652.21 L139.10,652.80" stroke-width="1.1"/>
<path d="M66.37,661.68 Q62.83,659.09 58.28,662.42 Q55.91,665.38 62.24,666.49 Q65.39,667.23 67.62,666.12" stroke-width="1.75"/>
<path d="M67.52,663.45 L67.33,665.82 Q68.19,668.35 71.07,665.82 M71.26,663.45 L71.05,667.40" stroke-width="1.75"/>
<path d="M75.15,660.29 L74.65,666.61 Q75.09,667.79 76.86,667.00 M73.32,663.13 L77.18,662.98" stroke-width="1.75"/>
<path d="M81.01,663.29 Q78.86,663.45 78.70,665.42 Q78.54,667.40 80.68,667.40 Q82.82,667.40 82.98,665.42 Q83.14,663.45 81.01,663.29" stroke-width="1.75"/>
<path d="M85.06,663.45 L84.75,667.40 M84.99,664.40 Q88.92,662.03 88.68,665.03 L88.49,667.40" stroke-width="1.75"/>
<path d="M95.07,664.08 Q90.92,662.50 90.65,665.82 Q91.54,668.03 95.08,666.61" stroke-width="1.75"/>
<path d="M96.67,665.50 L100.98,665.03 Q100.64,662.66 97.90,663.45 Q95.57,665.82 97.62,667.00 Q99.16,667.79 101.07,666.61" stroke-width="1.75"/>
<path d="M106.76,663.77 Q103.09,662.82 103.98,665.03 Q107.63,666.22 105.94,667.24 Q103.75,667.87 102.77,666.77" stroke-width="1.75"/>
<path d="M111.10,662.82 L111.48,663.45 M110.81,666.45 L111.19,667.08" stroke-width="1.75"/>
<path d="M58.78,679.74 L62.48,679.74" stroke-width="1.5"/>
<path d="M67.00,682.40 L67.47,676.50 L71.43,676.50 M67.24,679.45 L70.40,679.45" stroke-width="1.5"/>
<path d="M72.11,681.93 L72.55,682.40" stroke-width="1.5"/>
<path d="M77.81,678.90 L77.22,686.31 M77.74,679.84 Q81.61,677.50 81.16,680.85 Q80.51,683.58 77.56,682.02" stroke-width="1.5"/>
<path d="M82.90,678.90 L82.58,682.80 M82.78,680.30 Q84.24,678.51 85.94,679.21" stroke-width="1.5"/>
<path d="M86.94,680.93 L90.48,680.46 Q90.23,678.12 87.98,678.90 Q86.04,681.24 87.70,682.41 Q88.95,683.19 90.53,682.02" stroke-width="1.5"/>
<path d="M92.19,678.90 L91.59,686.31 M92.11,679.84 Q95.98,677.50 95.54,680.85 Q94.88,683.58 91.94,682.02" stroke-width="1.5"/>
<path d="M100.73,679.52 Q97.34,677.96 97.08,681.24 Q97.78,683.42 100.59,681.24 M100.78,678.90 L100.64,682.80" stroke-width="1.5"/>
<path d="M102.35,678.90 L102.04,682.80 M102.24,680.30 Q103.70,678.51 105.40,679.21" stroke-width="1.5"/>
<path d="M110.02,679.52 Q106.64,677.96 106.37,681.24 Q107.08,683.42 109.88,681.24 M110.07,678.90 L109.93,682.80" stroke-width="1.5"/>
<path d="M113.21,675.78 L112.71,682.02 Q113.05,683.19 114.52,682.41 M111.67,678.59 L114.84,678.43" stroke-width="1.5"/>
<path d="M117.97,678.74 Q116.20,678.90 116.05,680.85 Q115.89,682.80 117.64,682.80 Q119.40,682.80 119.55,680.85 Q119.71,678.90 117.97,678.74" stroke-width="1.5"/>
<path d="M121.29,678.90 L120.97,682.80 M121.17,680.30 Q122.63,678.51 124.33,679.21" stroke-width="1.5"/>
<path d="M125.93,678.90 L125.62,682.80 M126.11,676.72 L126.23,677.34" stroke-width="1.5"/>
<path d="M131.40,679.52 Q128.02,677.96 127.76,681.24 Q128.46,683.42 131.27,681.24 M131.45,678.90 L131.32,682.80" stroke-width="1.5"/>
<path d="M132.94,682.18 L133.42,682.80" stroke-width="1.5"/>
<path d="M135.89,678.28 L136.27,678.90 M135.60,681.86 L135.99,682.49" stroke-width="1.5"/>
<path d="M143.98,678.52 Q146.34,675.64 147.87,677.75 Q148.13,679.80 143.20,683.00 Q145.85,681.72 148.48,682.87" stroke-width="1.5"/>
<path d="M149.49,683.00 L152.55,676.60 L154.59,683.00 M150.70,680.57 L153.93,680.57" stroke-width="1.5"/>
<path d="M156.12,676.60 L161.22,676.60 M158.67,676.60 L158.16,683.00" stroke-width="1.5"/>
<path d="M161.73,683.00 L162.24,676.60 Q167.17,676.60 166.77,678.39 Q166.38,680.18 161.96,680.12" stroke-width="1.5"/>
<path d="M167.64,682.49 L168.10,683.00" stroke-width="1.5"/>
<path d="M58.78,693.03 L62.48,693.03" stroke-width="1.5"/>
<path d="M67.00,695.60 L67.49,689.50 L71.45,689.50 M67.24,692.55 L70.41,692.55" stroke-width="1.5"/>
<path d="M72.11,695.11 L72.55,695.60" stroke-width="1.5"/>
<path d="M77.82,691.60 L77.50,695.60 M77.70,693.04 Q79.42,691.20 81.46,691.92" stroke-width="1.5"/>
<path d="M82.68,693.68 L86.91,693.20 Q86.58,690.80 83.90,691.60 Q81.61,694.00 83.61,695.20 Q85.12,696.00 87.00,694.80" stroke-width="1.5"/>
<path d="M88.93,691.60 L88.61,695.60 M88.85,692.56 Q92.71,690.16 92.47,693.20 L92.28,695.60" stroke-width="1.5"/>
<path d="M98.73,692.24 Q94.67,690.64 94.40,694.00 Q95.27,696.24 98.59,694.00 M99.10,687.60 L98.67,695.60" stroke-width="1.5"/>
<path d="M101.19,691.60 L100.87,695.60 M101.37,689.36 L101.53,690.00" stroke-width="1.5"/>
<path d="M103.60,691.60 L103.28,695.60 M103.53,692.56 Q106.86,690.16 106.62,693.20 L106.43,695.60 M106.67,692.56 Q110.01,690.16 109.76,693.20 L109.57,695.60" stroke-width="1.5"/>
<path d="M112.30,691.60 L111.98,695.60 M112.48,689.36 L112.64,690.00" stroke-width="1.5"/>
<path d="M114.54,693.68 L118.78,693.20 Q118.44,690.80 115.76,691.60 Q113.47,694.00 115.47,695.20 Q116.98,696.00 118.86,694.80" stroke-width="1.5"/>
<path d="M120.79,691.60 L120.47,695.60 M120.71,692.56 Q124.57,690.16 124.33,693.20 L124.14,695.60" stroke-width="1.5"/>
<path d="M128.28,688.40 L127.77,694.80 Q128.19,696.00 129.93,695.20 M126.47,691.28 L130.26,691.12" stroke-width="1.5"/>
<path d="M134.01,691.44 Q131.90,691.60 131.74,693.60 Q131.58,695.60 133.68,695.60 Q135.77,695.60 135.93,693.60 Q136.09,691.60 134.01,691.44" stroke-width="1.5"/>
<path d="M143.85,693.68 L147.48,693.20 Q147.22,690.80 144.92,691.60 Q142.93,694.00 144.63,695.20 Q145.91,696.00 147.53,694.80" stroke-width="1.5"/>
<path d="M149.22,691.60 L148.90,695.60 M149.15,692.56 Q152.48,690.16 152.24,693.20 L152.04,695.60" stroke-width="1.5"/>
<path d="M153.90,693.68 L157.53,693.20 Q157.27,690.80 154.97,691.60 Q152.98,694.00 154.68,695.20 Q155.96,696.00 157.58,694.80" stroke-width="1.5"/>
<path d="M159.27,691.60 L158.95,695.60 M159.16,693.04 Q160.65,691.20 162.39,691.92" stroke-width="1.5"/>
<path d="M167.12,692.24 Q163.66,690.64 163.39,694.00 Q164.11,696.24 166.98,694.00 M167.17,691.60 L166.66,698.00 Q164.70,700.00 163.07,698.00" stroke-width="1.5"/>
<path d="M168.62,693.68 L172.25,693.20 Q171.99,690.80 169.68,691.60 Q167.70,694.00 169.39,695.20 Q170.68,696.00 172.30,694.80 M170.23,690.32 L171.86,689.04" stroke-width="1.5"/>
<path d="M175.59,688.40 L175.08,694.80 Q175.43,696.00 176.93,695.20 M174.01,691.28 L177.26,691.12" stroke-width="1.5"/>
<path d="M179.10,691.60 L178.78,695.60 M179.28,689.36 L179.41,690.00" stroke-width="1.5"/>
<path d="M184.71,692.24 Q181.24,690.64 180.98,694.00 Q181.69,696.24 184.68,694.80" stroke-width="1.5"/>
<path d="M188.00,691.44 Q186.19,691.60 186.03,693.60 Q185.87,695.60 187.67,695.60 Q189.46,695.60 189.62,693.60 Q189.78,691.60 188.00,691.44" stroke-width="1.5"/>
<path d="M195.57,690.96 L195.92,691.60 M195.28,694.64 L195.63,695.28" stroke-width="1.5"/>
<path d="M208.9,683 Q206.2,686 206.6,691 Q206.4,693.6 203.6,694.8 Q206,696 205.4,700 Q204.6,712 205.6,722 Q205.8,727 206.6,730"/>
<path d="M215.14,689.74 Q217.93,686.23 219.73,688.80 Q220.03,691.30 214.20,695.20 Q217.33,693.64 220.43,695.04" stroke-width="1.15"/>
<path d="M221.62,694.99 L222.45,687.19 L227.44,694.99 L228.26,687.19" stroke-width="1.15"/>
<path d="M228.84,694.78 L232.48,686.98 L234.86,694.78 M230.28,691.81 L234.09,691.81" stroke-width="1.15"/>
<path d="M236.89,686.77 L236.06,694.57 Q242.28,694.57 242.39,690.67 Q242.50,686.77 236.89,686.77" stroke-width="1.15"/>
<path d="M243.91,686.56 L243.28,694.36 M249.42,686.56 L248.80,694.36 M243.60,690.46 L249.11,690.46" stroke-width="1.15"/>
<path d="M249.7,691 L266,690.2" stroke-width="1.2"/><path d="M263.4,688.3000000000001 L267,690.2 L263.4,692.1 Z" stroke-width="0.6" fill="#151515"/>
<path d="M276.40,684.80 Q269.97,687.86 270.22,692.45 Q271.21,695.51 275.05,693.98 Q277.39,690.92 273.48,690.41 Q270.96,690.92 270.22,692.45" stroke-width="1.15"/>
<path d="M278.90,693.60 L282.65,684.60 L284.95,693.60 M280.38,690.18 L284.22,690.18" stroke-width="1.15"/>
<path d="M286.88,684.22 L292.94,684.22 M289.91,684.22 L289.19,693.22" stroke-width="1.15"/>
<path d="M293.43,692.84 L294.15,683.84 Q300.00,683.84 299.49,686.36 Q298.99,688.88 293.75,688.79" stroke-width="1.15"/>
<path d="M300.45,691.76 L300.99,692.48" stroke-width="1.15"/>
<path d="M214.15,704.74 Q217.02,701.23 218.88,703.80 Q219.20,706.30 213.20,710.20 Q216.42,708.64 219.62,710.04" stroke-width="1.3"/>
<path d="M220.85,710.20 L224.57,702.40 L227.05,710.20 M222.32,707.24 L226.25,707.24" stroke-width="1.3"/>
<path d="M228.91,702.40 L235.11,702.40 M232.01,702.40 L231.39,710.20" stroke-width="1.3"/>
<path d="M235.73,710.20 L236.35,702.40 Q242.34,702.40 241.86,704.58 Q241.37,706.77 236.01,706.69" stroke-width="1.3"/>
<path d="M242.91,709.58 L243.48,710.20" stroke-width="1.3"/>
<path d="M214.15,717.20 Q216.95,713.60 218.74,716.24 Q219.04,718.80 213.20,722.80 Q216.34,721.20 219.43,722.64" stroke-width="1.3"/>
<path d="M220.62,722.80 L224.27,714.80 L226.64,722.80 M222.07,719.76 L225.88,719.76" stroke-width="1.3"/>
<path d="M228.49,714.80 L234.51,714.80 M231.50,714.80 L230.86,722.80" stroke-width="1.3"/>
<path d="M235.07,722.80 L235.71,714.80 Q241.53,714.80 241.05,717.04 Q240.57,719.28 235.36,719.20" stroke-width="1.3"/>
<path d="M242.05,722.16 L242.60,722.80" stroke-width="1.3"/>
<path d="M66.46,734.24 Q61.78,732.70 61.70,736.34 Q57.94,740.75 66.57,739.56 M61.47,736.55 L64.90,736.34" stroke-width="1.3"/>
<path d="M67.55,735.85 L67.20,740.20 M67.46,736.89 Q73.51,734.28 73.24,737.59 L73.03,740.20" stroke-width="1.3"/>
<path d="M82.99,733.18 L82.49,739.42 Q82.80,740.59 84.18,739.81 M81.54,735.99 L84.49,735.83" stroke-width="1.3"/>
<path d="M87.41,736.14 Q85.76,736.30 85.61,738.25 Q85.45,740.20 87.09,740.20 Q88.72,740.20 88.88,738.25 Q89.04,736.30 87.41,736.14" stroke-width="1.3"/>
<path d="M91.98,733.18 L91.48,739.42 Q91.80,740.59 93.17,739.81 M90.53,735.99 L93.49,735.83" stroke-width="1.3"/>
<path d="M97.98,736.92 Q94.84,735.36 94.57,738.64 Q95.22,740.82 97.84,738.64 M98.03,736.30 L97.88,740.20" stroke-width="1.3"/>
<path d="M100.22,732.40 L99.60,740.20" stroke-width="1.3"/>
<path d="M103.76,735.68 L104.11,736.30 M103.47,739.26 L103.82,739.89" stroke-width="1.3"/>
<path d="M118.52,735.35 L120.70,733.60 L120.14,740.60" stroke-width="1.3"/>
<path d="M125.60,733.60 Q122.54,733.60 122.26,737.10 Q121.98,740.60 125.04,740.60 Q128.09,740.60 128.37,737.10 Q128.65,733.60 125.60,733.60" stroke-width="1.3"/>
<path d="M129.32,740.60 L132.93,733.60 L135.43,740.60 M130.75,737.94 L134.63,737.94" stroke-width="1.3"/>
<path d="M137.21,733.60 L143.33,733.60 M140.27,733.60 L139.71,740.60" stroke-width="1.3"/>
<path d="M143.99,740.60 L144.55,733.60 Q150.47,733.60 150.00,735.56 Q149.54,737.52 144.25,737.45" stroke-width="1.3"/>
<path d="M153.67,737.27 L157.67,737.27" stroke-width="1.3"/>
<path d="M162.81,735.90 Q165.17,732.75 166.67,735.06 Q166.91,737.30 162.00,740.80 Q164.64,739.40 167.23,740.66" stroke-width="1.3"/>
<path d="M168.23,740.80 L171.32,733.80 L173.29,740.80 M169.46,738.14 L172.66,738.14" stroke-width="1.3"/>
<path d="M174.86,733.80 L179.92,733.80 M177.39,733.80 L176.83,740.80" stroke-width="1.3"/>
<path d="M180.37,740.80 L180.93,733.80 Q185.81,733.80 185.40,735.76 Q184.99,737.72 180.62,737.65" stroke-width="1.3"/>
<circle cx="193.3" cy="737.6" r="1.1" fill="#151515" stroke="none"/>
<path d="M202.91,737.60 Q200.40,736.16 203.19,734.00 Q205.64,736.16 202.91,737.60 Q199.71,739.40 202.62,741.20 Q205.82,739.40 202.91,737.60" stroke-width="1.3"/>
<path d="M206.28,741.20 L209.48,734.00 L211.52,741.20 M207.55,738.46 L210.86,738.46" stroke-width="1.3"/>
<path d="M213.14,734.00 L218.37,734.00 M215.76,734.00 L215.18,741.20" stroke-width="1.3"/>
<path d="M218.85,741.20 L219.42,734.00 Q224.48,734.00 224.06,736.02 Q223.64,738.03 219.10,737.96" stroke-width="1.3"/>
<path d="M224.91,740.62 L225.39,741.20" stroke-width="1.3"/>
</svg>
<!--/HAND-->
</div>
</body>
</html>
